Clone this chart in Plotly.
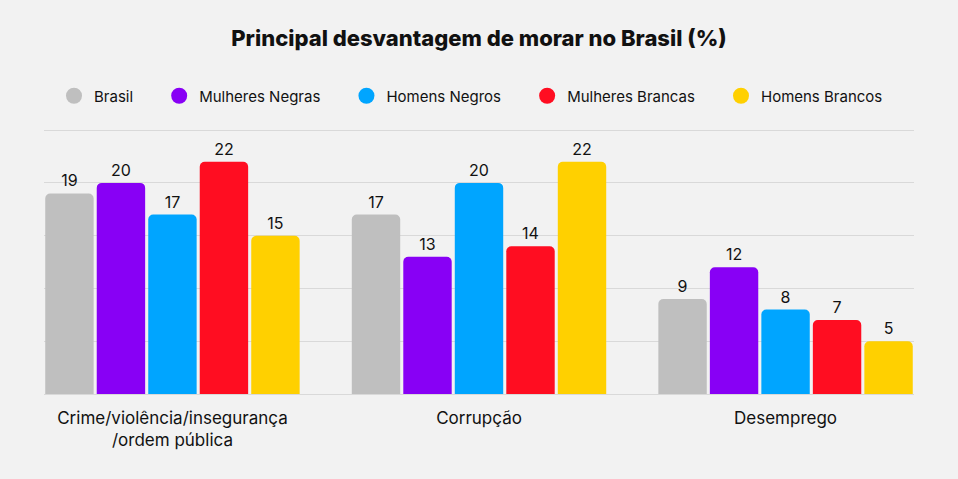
import plotly.graph_objects as go

categories = ["Crime/violência/insegurança<br>/ordem pública", "Corrupção", "Desemprego"]
series_names = ["Brasil", "Mulheres Negras", "Homens Negros", "Mulheres Brancas", "Homens Brancos"]
brasil = [19, 17, 9]
mulheres_negras = [20, 13, 12]
homens_negros = [17, 20, 8]
mulheres_brancas = [22, 14, 7]
homens_brancos = [15, 22, 5]
series_values = [brasil, mulheres_negras, homens_negros, mulheres_brancas, homens_brancos]
colors = ["#bfbfbf", "#8800f5", "#00a5ff", "#ff0d21", "#ffd000"]

FONT = "Inter"
PAD = "\u00a0" * 5  # visual spacing between legend entries
fig = go.Figure()
for name, vals, col in zip(series_names, series_values, colors):
    fig.add_trace(go.Bar(
        x=list(range(len(categories))), y=vals, name=name, marker_color=col,
        marker_line_width=0, text=[str(v) for v in vals], textposition="outside",
        textfont=dict(size=16, color="#111111", family=FONT), cliponaxis=False,
        showlegend=False, hoverinfo="skip"))
for i, (name, col) in enumerate(zip(series_names, colors)):
    label = name + (PAD if i < len(series_names) - 1 else "")
    fig.add_trace(go.Scatter(x=[None], y=[None], mode="markers", name=label,
                             marker=dict(symbol="circle", size=17, color=col)))

fig.update_layout(
    width=958, height=479,
    paper_bgcolor="#f2f2f2", plot_bgcolor="#f2f2f2",
    margin=dict(l=44, r=44, t=128, b=85),
    barmode="group", bargap=0.16, bargroupgap=0.06, barcornerradius=5,
    title=dict(text="Principal desvantagem de morar no Brasil (%)", x=0.5, xanchor="center",
               y=1 - 38 / 479, yanchor="middle",
               font=dict(size=22, color="#111111", family=FONT, weight=800)),
    legend=dict(orientation="h", x=0.5 - 8 / 870, xanchor="center", y=1 + 32 / 266, yanchor="middle",
                font=dict(size=15, color="#111111", family=FONT), bgcolor="rgba(0,0,0,0)"),
    xaxis=dict(range=[-0.419, 2.419], tickmode="array", tickvals=list(range(len(categories))),
               ticktext=categories, showgrid=False, zeroline=False, showline=False,
               tickfont=dict(size=17, color="#111111", family=FONT), ticks="", ticklen=0,
               ticklabelstandoff=12),
    yaxis=dict(range=[0, 25.2], tickmode="array", tickvals=[0, 5, 10, 15, 20, 25],
               showticklabels=False, showgrid=True,
               gridcolor="#d9d9d9", gridwidth=1, zeroline=True, zerolinecolor="#d9d9d9",
               zerolinewidth=1, showline=False),
)
fig.write_html("out.html")
